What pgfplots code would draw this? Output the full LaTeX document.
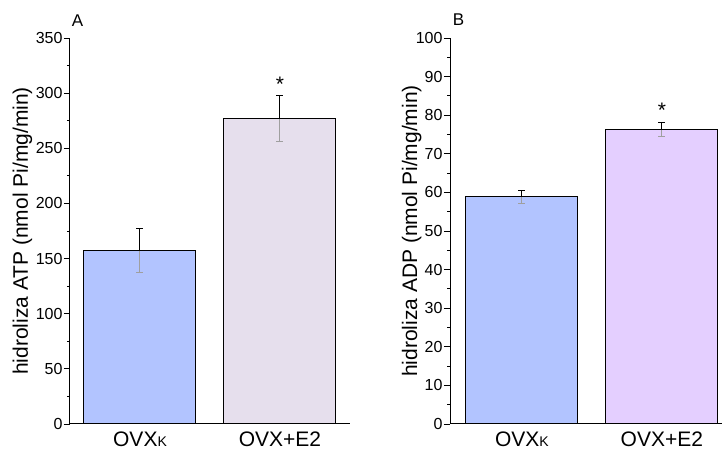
\documentclass[border=0pt]{standalone}
\usepackage{pgfplots}
\pgfplotsset{compat=1.18}
\usepackage{fontspec}
\setmainfont{Liberation Sans}
\definecolor{cblue}{RGB}{178,196,255}
\definecolor{clav}{RGB}{230,223,237}
\definecolor{cpur}{RGB}{228,207,255}
\pgfplotsset{
  myax/.style={
    scale only axis, height=386pt,
    ymin=0,
    axis x line*=bottom, axis y line*=left,
    axis line style={line width=1pt, -},
    xtick={0,1}, xticklabels={OVX{\fontsize{14}{14}\selectfont K}, OVX+E2},
    xtick style={draw=none},
    x tick label style={font=\fontsize{21}{24}\selectfont, yshift=-4pt},
    y tick label style={font=\fontsize{16}{18}\selectfont, xshift=2pt},
    /pgf/number format/assume math mode=true,
    ytick align=outside, major tick length=6pt, minor tick length=3pt,
    minor y tick num=1,
    tick style={line width=0.9pt, black},
    clip=false, unbounded coords=jump,
  },
  eup/.style={black, line width=1pt, mark=none, forget plot},
  edn/.style={gray!75, line width=1pt, mark=none, forget plot},
}
\begin{document}
\begin{tikzpicture}
\useasboundingbox (-70pt,-26pt) rectangle (654pt,424pt);
\begin{axis}[myax, at={(0,0)}, anchor=south west, width=280pt,
  xmin=-0.5, xmax=1.5, ymax=350, ytick={0,50,...,350},
  ylabel={hidroliza ATP (nmol Pi/mg/min)},
  ylabel style={font=\fontsize{21}{24}\selectfont, at={(axis description cs:0,0.5)}, anchor=base, inner sep=0pt, yshift=42pt}]
\addplot[ybar, bar width=0.8, bar shift=0pt, fill=cblue, draw=black, line width=1pt] coordinates {(0,157)};
\addplot[ybar, bar width=0.8, bar shift=0pt, fill=clav, draw=black, line width=1pt] coordinates {(1,277)};
% error bars: lower part (grey), upper part (black)
\addplot[edn] coordinates {(0,137) (0,157) (nan,nan) (-0.025,137) (0.025,137)};
\addplot[edn] coordinates {(1,256) (1,277) (nan,nan) (0.975,256) (1.025,256)};
\addplot[eup] coordinates {(0,157) (0,177) (nan,nan) (-0.025,177) (0.025,177)};
\addplot[eup] coordinates {(1,277) (1,298) (nan,nan) (0.975,298) (1.025,298)};
\node[font=\fontsize{21}{22}\selectfont] at (axis cs:1,308) {*};
\node[font=\fontsize{17}{18}\selectfont, xshift=7.5pt, yshift=17.5pt] at (axis description cs:0,1) {A};
\end{axis}
\begin{axis}[myax, at={(380pt,0)}, anchor=south west, width=272pt,
  xmin=-0.514, xmax=1.43, ymax=100, ytick={0,10,...,100},
  ylabel={hidroliza ADP (nmol Pi/mg/min)},
  ylabel style={font=\fontsize{21}{24}\selectfont, at={(axis description cs:0,0.5)}, anchor=base, inner sep=0pt, yshift=33pt}]
\addplot[ybar, bar width=0.8, bar shift=0pt, fill=cblue, draw=black, line width=1pt] coordinates {(0,58.9)};
\addplot[ybar, bar width=0.8, bar shift=0pt, fill=cpur, draw=black, line width=1pt] coordinates {(1,76.2)};
\addplot[edn] coordinates {(0,57.2) (0,58.9) (nan,nan) (-0.025,57.2) (0.025,57.2)};
\addplot[edn] coordinates {(1,74.4) (1,76.2) (nan,nan) (0.975,74.4) (1.025,74.4)};
\addplot[eup] coordinates {(0,58.9) (0,60.6) (nan,nan) (-0.025,60.6) (0.025,60.6)};
\addplot[eup] coordinates {(1,76.2) (1,78.2) (nan,nan) (0.975,78.2) (1.025,78.2)};
\node[font=\fontsize{21}{22}\selectfont] at (axis cs:1,81.2) {*};
\node[font=\fontsize{17}{18}\selectfont, xshift=8.5pt, yshift=18pt] at (axis description cs:0,1) {B};
\end{axis}
\end{tikzpicture}
\end{document}
